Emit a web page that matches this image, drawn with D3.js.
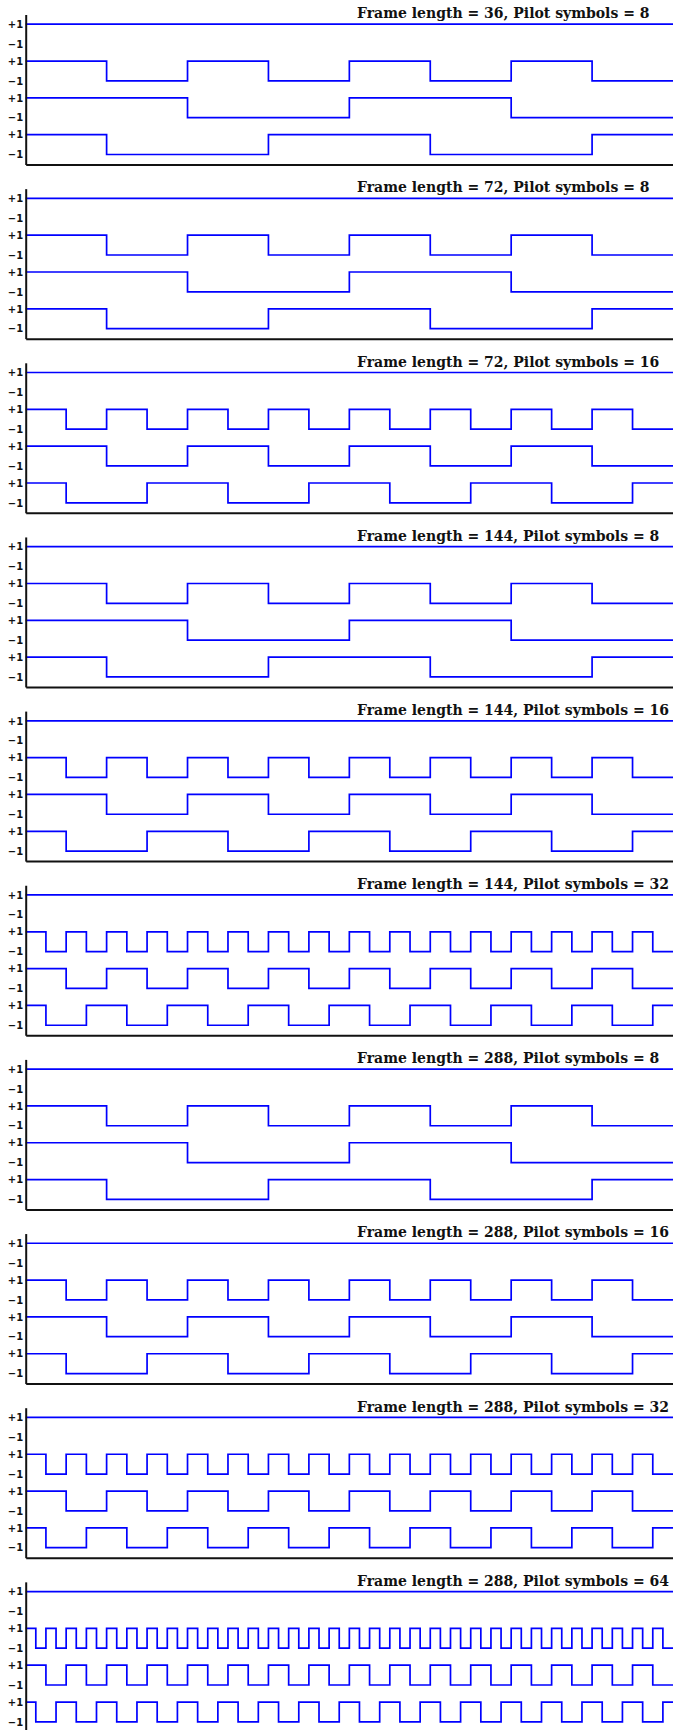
<!DOCTYPE html>
<html>
<head>
<meta charset="utf-8">
<script src="https://cdn.jsdelivr.net/npm/d3@7"></script>
<style>
  html, body { margin: 0; padding: 0; background: #fff; }
  .tick text { font-family: "DejaVu Sans", sans-serif; font-weight: bold; font-size: 10px; fill: #111; }
  .spine path { stroke: #111; stroke-width: 2; }
  .title { font-family: "DejaVu Serif", serif; font-weight: bold; font-size: 14px; fill: #111; }
  .wave { fill: none; stroke: #0000ff; stroke-width: 1.7; }
</style>
</head>
<body>
<div id="chart"></div>
<script>
/* ===== Data ===== */

const frameLengths = [36, 72, 72, 144, 144, 144, 288, 288, 288, 288];
const pilotCounts  = [8, 8, 16, 8, 16, 32, 8, 16, 32, 64];

// pilot sequences, one string per row, "+" = +1 and "-" = -1
const pilots8 = [
  "++++++++",
  "+-+-+-+-",
  "++--++--",
  "+--++--+"
];
const pilots16 = [
  "++++++++++++++++",
  "+-+-+-+-+-+-+-+-",
  "++--++--++--++--",
  "+--++--++--++--+"
];
const pilots32 = [
  "++++++++++++++++++++++++++++++++",
  "+-+-+-+-+-+-+-+-+-+-+-+-+-+-+-+-",
  "++--++--++--++--++--++--++--++--",
  "+--++--++--++--++--++--++--++--+"
];
const pilots64 = [
  "++++++++++++++++++++++++++++++++++++++++++++++++++++++++++++++++",
  "+-+-+-+-+-+-+-+-+-+-+-+-+-+-+-+-+-+-+-+-+-+-+-+-+-+-+-+-+-+-+-+-",
  "++--++--++--++--++--++--++--++--++--++--++--++--++--++--++--++--",
  "+--++--++--++--++--++--++--++--++--++--++--++--++--++--++--++--+"
];
const levelLabels = ["+1", "\u22121"];

const pilotsByCount = { 8: pilots8, 16: pilots16, 32: pilots32, 64: pilots64 };

/* ===== Layout ===== */

const W = 673, H = 1730;
const left = 25.7;
const panelTop = 14.5, panelStep = 174.15, panelH = 150;
const rowGap = 3.72;               // vertical distance between rows, in level units

const svg = d3.select("#chart").append("svg")
  .attr("width", W)
  .attr("height", H);

const y = d3.scaleLinear()
  .domain([1.98, -13.17])
  .range([0, panelH]);

pilotCounts.forEach((P, i) => {
  const rows = pilotsByCount[P];
  const g = svg.append("g")
    .attr("transform", `translate(0,${panelTop + i * panelStep})`);

  const x = d3.scaleLinear().domain([0, P]).range([left, W]);

  // waveforms
  const line = d3.line()
    .x(d => x(d[0]))
    .y(d => y(d[1]))
    .curve(d3.curveStepAfter);

  rows.forEach((seq, r) => {
    const off = -r * rowGap;
    const pts = seq.split("").map((c, k) => [k, (c === "+" ? 1 : -1) + off]);
    pts.push([P, pts[pts.length - 1][1]]);
    g.append("path").attr("class", "wave").attr("d", line(pts));
  });

  // y axis with +1 / -1 labels for each row
  const ticks = [];
  rows.forEach((seq, r) => { ticks.push(1 - r * rowGap, -1 - r * rowGap); });

  g.append("g")
    .attr("class", "spine")
    .attr("transform", `translate(${left},0)`)
    .call(d3.axisLeft(y).tickValues(ticks)
      .tickFormat((d, k) => levelLabels[k % 2])
      .tickSize(0).tickPadding(2.5))
    .call(a => a.selectAll(".tick line").remove());

  // bottom spine
  g.append("g")
    .attr("class", "spine")
    .attr("transform", `translate(0,${panelH})`)
    .call(d3.axisBottom(x).tickValues([]).tickSizeOuter(0));

  g.append("text")
    .attr("class", "title")
    .attr("x", 357)
    .attr("y", 3.8)
    .text(`Frame length = ${frameLengths[i]}, Pilot symbols = ${P}`);
});
</script>
</body>
</html>
